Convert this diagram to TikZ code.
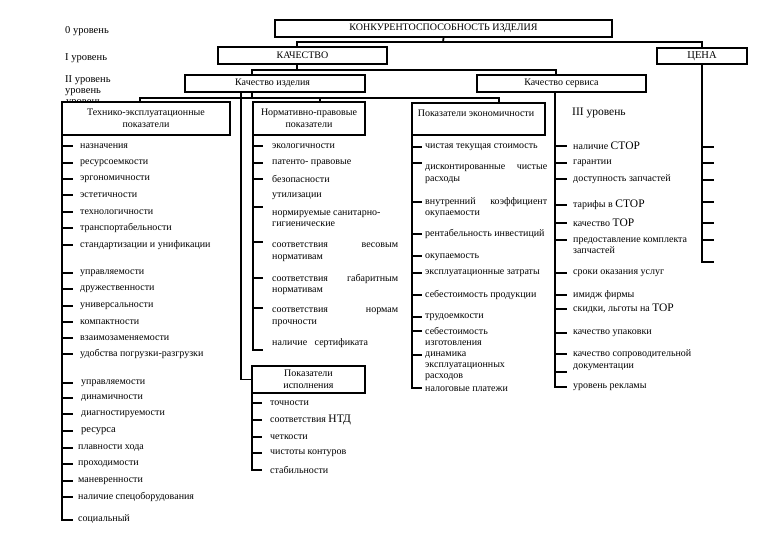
\documentclass[tikz,border=0pt]{standalone}
\usepackage{fontspec}
\setmainfont{Liberation Serif}
\newcommand\fs{\fontsize{10}{11.5}\selectfont}
\newcommand\ft{\fontsize{10}{11}\selectfont}
\newcommand\fb{\fontsize{11.5}{12}\selectfont}
\newcommand\fm{\fontsize{10.5}{12}\selectfont}
\begin{document}
\begin{tikzpicture}[x=1pt,y=-1pt,
  every node/.style={font=\fs},
  box/.style={draw,line width=2.2pt,fill=white,inner sep=0pt,align=center},
  ln/.style={line width=1.8pt},
  tk/.style={line width=2.2pt},
  it/.style={anchor=west,inner sep=0pt,align=left},
  lv/.style={anchor=west,inner sep=0pt,font=\fm},
]
\useasboundingbox (0,0) rectangle (780,540);
\fill[white] (0,0) rectangle (780,540);

% level labels
\node[lv] (l0) at (65,31) {0 уровень};
\node[lv] (l1) at (65,58) {I уровень};
\node[lv] (l2) at (65,80) {II уровень};
\node[lv] (l2b) at (65,92) {уровень};
\node[lv] (l2c) at (66,103) {уровень};
\node[lv,font=\fb] (l3) at (572,113) {III уровень};

% junctions
\coordinate (j0) at (443,42);
\coordinate (j1) at (297,70);
\coordinate (j2) at (252,98);

% spines (drawn first, boxes cover their tops)
\coordinate (ea) at (73,520);
\coordinate (eb) at (263,350);
\coordinate (ec) at (262,470);
\coordinate (ed) at (422,388);
\coordinate (ee) at (567,387);
\coordinate (ef) at (714,262);
\coordinate (sa) at (62,135);
\coordinate (sb) at (253,135);
\coordinate (sc) at (252,393);
\coordinate (sd) at (412,135);
\coordinate (se) at (555,92);
\coordinate (sf) at (702,64);
\draw[ln] (sa) |- (ea);
\draw[ln] (sb) |- (eb);
\draw[ln] (sc) |- (ec);
\draw[ln] (sd) |- (ed);
\draw[ln] (se) |- (ee);
\draw[ln] (sf) |- (ef);

% ticks
\foreach \y [count=\i] in {146,163,179,195,212,228,245,273,289,306,322,338,354,383,398,414,431,448,464,481,497}{
  \coordinate (ta\i) at (62,\y); \draw[tk] (ta\i) -- ++(11,0);}
\foreach \y [count=\i] in {146,163,179,207,242,278,308}{
  \coordinate (tb\i) at (253,\y); \draw[tk] (tb\i) -- ++(10,0);}
\foreach \y [count=\i] in {403,420,437,453}{
  \coordinate (tc\i) at (252,\y); \draw[tk] (tc\i) -- ++(10,0);}
\foreach \y [count=\i] in {147,163,202,234,256,273,295,317,331,355}{
  \coordinate (td\i) at (412,\y); \draw[tk] (td\i) -- ++(10,0);}
\foreach \y [count=\i] in {146,163,179,205,223,240,273,295,309,333,354,372}{
  \coordinate (te\i) at (555,\y); \draw[tk] (te\i) -- ++(12,0);}
\foreach \y [count=\i] in {147,163,180,202,223,240}{
  \coordinate (tf\i) at (702,\y); \draw[tk] (tf\i) -- ++(12,0);}

% boxes
\node[box,minimum width=337,minimum height=17] (kon) at (443.5,28.5) {КОНКУРЕНТОСПОСОБНОСТЬ ИЗДЕЛИЯ};
\node[box,minimum width=169,minimum height=17] (kach) at (302.5,55.5) {КАЧЕСТВО};
\node[box,minimum width=90,minimum height=16,font=\fm] (cena) at (702,56) {ЦЕНА};
\node[box,minimum width=180,minimum height=17] (ki) at (275,83.5) {};
\node[it] (kit) at (235,83.5) {Качество изделия};
\node[box,minimum width=169,minimum height=17] (ks) at (561.5,83.5) {Качество сервиса};
\node[box,minimum width=168,minimum height=33] (tech) at (146,118.5) {Технико-эксплуатационные\\показатели};
\node[box,minimum width=112,minimum height=33] (norm) at (309,118.5) {Нормативно-правовые\\показатели};
\node[box,minimum width=133,minimum height=32] (pe) at (478.5,119) {};
\node[inner sep=0pt] (pet) at (476,113) {Показатели экономичности};
\node[box,minimum width=113,minimum height=27] (pi) at (308.5,379.5) {Показатели\\исполнения};

% connectors between boxes
\draw[ln] (kon.south) -- (j0);
\draw[ln] ([xshift=-5.5]kach.north) |- (j0) -| (cena.north);
\draw[ln] ([xshift=-5.5]kach.south) -- (j1);
\draw[ln] ([xshift=-23]ki.north) |- (j1) -| ([xshift=-5.5]ks.north);
\draw[ln] ([xshift=-23]ki.south) -- (j2);
\draw[ln] ([xshift=-6]tech.north) |- (j2) -| ([xshift=11]norm.north);
\draw[ln] (j2) -| ([xshift=20.5]pe.north);
\draw[ln] ([xshift=-34]ki.south) |- (pi.west);

% column: technical-operational
\node[it] (a1) at (80,146) {назначения};
\node[it] (a2) at (80,163) {ресурсоемкости};
\node[it] (a3) at (80,179) {эргономичности};
\node[it] (a4) at (80,195) {эстетичности};
\node[it] (a5) at (80,212) {технологичности};
\node[it] (a6) at (80,228) {транспортабельности};
\node[it] (a7) at (80,245) {стандартизации и унификации};
\node[it] (a8) at (80,273) {управляемости};
\node[it] (a9) at (80,289) {дружественности};
\node[it] (a10) at (80,306) {универсальности};
\node[it] (a11) at (80,322) {компактности};
\node[it] (a12) at (80,338) {взаимозаменяемости};
\node[it] (a13) at (80,354) {удобства погрузки-разгрузки};
\node[it] (a14) at (81,383) {управляемости};
\node[it] (a15) at (81,398) {динамичности};
\node[it] (a16) at (81,414) {диагностируемости};
\node[it,font=\fm] (a17) at (81,431) {ресурса};
\node[it] (a18) at (78,448) {плавности хода};
\node[it] (a19) at (78,464) {проходимости};
\node[it] (a20) at (78,481) {маневренности};
\node[it] (a21) at (78,497) {наличие спецоборудования};
\node[it] (a22) at (78,519) {социальный};

% column: normative-legal
\node[it] (b1) at (272,146) {экологичности};
\node[it] (b2) at (272,163) {патенто- правовые};
\node[it] (b3) at (272,179) {безопасности};
\node[it] (b4) at (272,196) {утилизации};
\node[it] (b5) at (272,218.5) {нормируемые санитарно-\\гигиенические};
\node[it,text width=126] (b6) at (272,252) {соответствия\hfill весовым\\нормативам};
\node[it,text width=126] (b7) at (272,284.5) {соответствия\hfill габаритным\\нормативам};
\node[it,text width=126] (b8) at (272,317) {соответствия\hfill нормам\\прочности};
\node[it] (b9) at (272,343) {наличие\hspace{5pt} сертификата};

% column: execution
\node[it] (c1) at (270,403) {точности};
\node[it] (c2) at (270,420) {соответствия {\fb НТД}};
\node[it] (c3) at (270,437) {четкости};
\node[it] (c4) at (270,453) {чистоты контуров};
\node[it] (c5) at (270,470) {стабильности};

% column: economy
\node[it] (d1) at (425,147) {чистая текущая стоимость};
\node[it,text width=122] (d2) at (425,174) {дисконтированные\hfill чистые\\расходы};
\node[it,text width=122] (d3) at (425,207.5) {внутренний\hfill коэффициент\\окупаемости};
\node[it] (d4) at (425,234) {рентабельность инвестиций};
\node[it] (d5) at (425,257) {окупаемость};
\node[it] (d6) at (425,273) {эксплуатационные затраты};
\node[it] (d7) at (425,295) {себестоимость продукции};
\node[it] (d8) at (425,317) {трудоемкости};
\node[it,font=\ft] (d9) at (425,336) {себестоимость\\изготовления};
\node[it,font=\ft] (d10) at (425,366.5) {динамика\\эксплуатационных\\расходов};
\node[it] (d11) at (425,389) {налоговые платежи};

% column: service
\node[it] (e1) at (573,146) {наличие {\fb СТОР}};
\node[it] (e2) at (573,163) {гарантии};
\node[it] (e3) at (573,179) {доступность запчастей};
\node[it] (e4) at (573,205) {тарифы в {\fb СТОР}};
\node[it] (e5) at (573,223) {качество {\fb ТОР}};
\node[it] (e6) at (573,245.5) {предоставление комплекта\\запчастей};
\node[it] (e7) at (573,273) {сроки оказания услуг};
\node[it] (e8) at (573,295) {имидж фирмы};
\node[it] (e9) at (573,309) {скидки, льготы на {\fb ТОР}};
\node[it] (e10) at (573,333) {качество упаковки};
\node[it] (e11) at (573,360) {качество сопроводительной\\документации};
\node[it] (e12) at (573,387) {уровень рекламы};
\end{tikzpicture}
\end{document}
